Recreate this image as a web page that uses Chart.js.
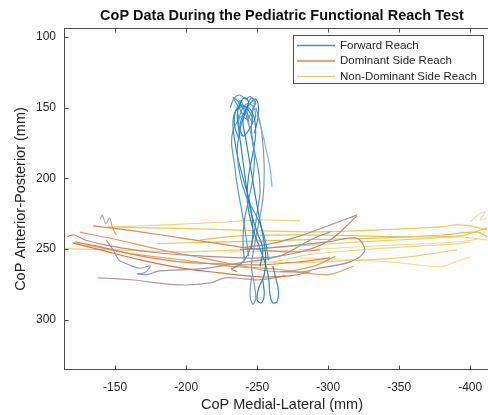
<!DOCTYPE html>
<html><head><meta charset="utf-8">
<script src="https://cdn.jsdelivr.net/npm/chart.js@4.4.0/dist/chart.umd.min.js"></script>
<style>html,body{margin:0;padding:0;background:#fff;overflow:hidden;width:488px;height:415px}canvas{display:block}</style>
</head><body>
<canvas id="c" width="500" height="415" style="width:500px;height:415px"></canvas>
<script>
const titleText = 'CoP Data During the Pediatric Functional Reach Test';
const xLabel = 'CoP Medial-Lateral (mm)';
const yLabel = 'CoP Anterior-Posterior (mm)';
const seriesNames = ['Forward Reach', 'Dominant Side Reach', 'Non-Dominant Side Reach'];
const legendColors = ['#3f93c8', '#e2864a', '#f0cf68'];
const xTicks = [-150, -200, -250, -300, -350, -400];
const yTicks = [100, 150, 200, 250, 300];

// Forward reach trials: [medial-lateral, anterior-posterior] in mm
const forward1 = [[-252,262],[-254,250],[-250,238],[-246,225],[-243,210],[-241,195],[-239,180],[-237,165],[-236,155],[-238,147],[-241,143],[-244,146],[-242,152],[-240,160],[-242,172],[-245,190],[-248,208],[-251,225],[-254,240],[-256,255],[-255,268],[-251,278],[-250,286],[-253,288],[-255,282],[-254,272]];
const forward2 = [[-241,258],[-240,245],[-241,230],[-244,215],[-247,200],[-248,185],[-246,170],[-243,158],[-240,150],[-236,145],[-233,143],[-236,148],[-240,156],[-238,165],[-236,180],[-238,198],[-242,212],[-247,222],[-252,232],[-256,245],[-258,258]];
const forward3 = [[-250,155],[-253,165],[-256,178],[-259,192],[-260.5,206]];
const forward4 = [[-246,250],[-247,235],[-245,218],[-241,203],[-237,188],[-234,172],[-233,160],[-235,152],[-240,149],[-245,151],[-248,157],[-249,168],[-247,182],[-244,198],[-243,215],[-246,232],[-251,247],[-255,258],[-258,270],[-259,282],[-261,288],[-264,287],[-265,279],[-263,270],[-261,262]];
const forward5 = [[-236,266],[-232,264],[-236,262],[-241,258],[-245,250],[-248,238],[-250,224],[-252,210],[-251,195],[-248,180],[-246,165],[-247,152],[-249,146],[-246,143],[-243,150],[-244,160]];
const forward6 = [[-239,170],[-237,160],[-239,152],[-243,147],[-247,149],[-249,155],[-247,160],[-244,156],[-241,150],[-238,145],[-236,150],[-237,158]];
const forward7 = [[-231,150],[-234,143],[-238,141],[-242,144],[-245,142],[-248,146],[-246,153],[-243,158],[-239,156],[-236,160],[-233,166],[-232,175],[-234,190],[-236,205],[-239,222],[-242,240],[-244,255]];
const forward8 = [[-248,168],[-250,160],[-251,150],[-249,144],[-245,147],[-241,153],[-238,162],[-240,170],[-244,166],[-247,159],[-244,152],[-239,148],[-235,152],[-234,162],[-237,172]];
const forward9 = [[-249,150],[-252,160],[-254,175],[-255,195],[-254,215],[-251,232],[-248,248],[-246,262],[-248,275],[-249,285],[-247,289],[-245,283],[-246,270]];

// Dominant side reach trials
const dominant1 = [[-121.8,244.9],[-139.4,248.4],[-167.6,254.8],[-195.8,259],[-223.9,260.4],[-252.1,261.1],[-280.3,259],[-301.4,256.2]];
const dominant2 = [[-120.4,245.6],[-139.4,250.5],[-167.6,257.6],[-195.8,263.3],[-223.9,266.8],[-252.1,269.6],[-273.2,268.9],[-287.3,266]];
const dominant3 = [[-116,241],[-121,240],[-128.9,243.5],[-146.5,247.7],[-174.6,252],[-209.9,254.8],[-252.1,256.2],[-280.3,252],[-301.4,243.5],[-320.4,226.5]];
const dominant4 = [[-143.6,243.5],[-148.6,250.5],[-152.8,258],[-156,259.5],[-162,262],[-168,263.5],[-174.6,262],[-171,266.5],[-165.5,267.5],[-172,268],[-181.7,265.4],[-209.9,264],[-238,259.7],[-266.2,254.8],[-287.3,243.5],[-301.4,237.8]];
const dominant5 = [[-138,270.3],[-160.6,271.7],[-195.8,275.3],[-216.9,273.9],[-227.5,270.3],[-241.5,271],[-252.1,271.7],[-269.7,268.9]];
const dominant6 = [[-134.5,233.6],[-146.5,235],[-167.6,237.8],[-195.8,242],[-223.9,246.3],[-252.1,250.5],[-273.2,252],[-294.4,250.5]];
const dominant7 = [[-238,250.5],[-266.2,248.4],[-299.3,244.9],[-319,242],[-324,245.6],[-325.4,252],[-315.5,259],[-294.4,263.3],[-282.4,266],[-266.2,266]];
const dominant8 = [[-238,249.1],[-259.2,246.3],[-280.3,240.6],[-301.4,232.9],[-320.4,225.8]];
const dominant9 = [[-139.4,229],[-141,226],[-143.5,232],[-146,228],[-148.6,236],[-151,240]];
const dominant10 = [[-125,238],[-150,243],[-180,250],[-210,256],[-240,262],[-265,266],[-290,262],[-305,255]];
const dominant11 = [[-130,247],[-160,253],[-200,258],[-230,262],[-262,264],[-300,268],[-318,262]];

// Non-dominant side reach trials
const nondom1 = [[-144.4,234.3],[-174.6,235],[-209.9,235.7],[-252.1,237.1],[-294.4,237.8],[-336.6,236.4],[-378.9,234.3],[-390.8,232.9],[-400,233.6],[-412,236.4]];
const nondom2 = [[-114,249.5],[-118.3,249.8],[-153.5,250.5],[-195.8,252],[-238,250.5],[-280.3,247.7],[-322.5,244.9],[-364.8,242.8],[-393,241.4],[-412,243.5]];
const nondom3 = [[-209.9,243.5],[-238,240.6],[-280.3,239.9],[-322.5,240.6],[-364.8,241.4],[-393,240.6],[-403.5,237.8],[-412,235]];
const nondom4 = [[-245.1,259],[-261.3,259],[-285.2,254.1],[-322.5,250.5],[-364.8,247.7],[-390.8,246.3],[-400,244.9]];
const nondom5 = [[-261.3,259.7],[-294.4,259],[-350,256.2],[-371.8,253.4],[-390.8,250.5]];
const nondom6 = [[-280.3,256.2],[-320.4,257.6],[-350.7,259.7],[-378.9,262.5],[-389.4,259],[-400,255.5]];
const nondom7 = [[-400,230.7],[-405.7,225.8],[-410.6,223.6],[-407,229.3],[-412,228]];
const nondom8 = [[-148.6,234.3],[-181.7,233],[-223.9,231],[-252.1,229.3],[-280,230]];
const nondom9 = [[-180,246],[-220,245],[-260,244],[-300,243],[-340,242],[-380,240],[-405,238],[-412,241]];
const nondom10 = [[-230,252],[-270,251],[-310,249],[-350,247],[-390,245],[-405,243]];

const groups = [
  { name: 0, trials: [forward1, forward2, forward3, forward4, forward5, forward6, forward7, forward8, forward9],
    colors: ['#1f7fc4', '#3f95d0', '#7fb5dc', '#2a86c8', '#6d8fb0', '#5aa0d5', '#4a9ad6', '#3585c0', '#7a98b8'] },
  { name: 1, trials: [dominant1, dominant2, dominant3, dominant4, dominant5, dominant6, dominant7, dominant8, dominant9, dominant10, dominant11],
    colors: ['#e8843c', '#e07040', '#b98a86', '#8f98b8', '#b49a9a', '#d98a50', '#a58a9a', '#a89090', '#b0a8b0', '#e69a5a', '#eba070'] },
  { name: 2, trials: [nondom1, nondom2, nondom3, nondom4, nondom5, nondom6, nondom7, nondom8, nondom9, nondom10],
    colors: ['#efc850', '#f0d068', '#ecc040', '#f2d878', '#eed070', '#f3e0a0', '#e8e0b0', '#f0d470', '#eebc48', '#f1d98a'] }
];

const datasets = [];
groups.forEach(g => {
  g.trials.forEach((t, i) => {
    datasets.push({
      label: seriesNames[g.name],
      data: t.map(p => ({ x: p[0], y: p[1] })),
      borderColor: g.colors[i],
      borderWidth: 1.15,
      pointRadius: 0,
      tension: 0.35,
      fill: false,
      showLine: true
    });
  });
});

const FONT = 'Liberation Sans, Arial, Helvetica, sans-serif';
const AXIS = '#4d4d4d';
const TXT = '#262626';

const framePlugin = {
  id: 'frame',
  afterDatasetsDraw(chart) {
    const { ctx, chartArea: a, scales: { x, y } } = chart;
    ctx.save();
    ctx.strokeStyle = AXIS;
    ctx.lineWidth = 1;
    const L = Math.round(a.left) + 0.5, T = Math.round(a.top) + 0.5;
    const R = Math.round(a.right) - 0.5, B = Math.round(a.bottom) - 0.5;
    ctx.strokeRect(L, T, R - L, B - T);
    ctx.beginPath();
    x.ticks.forEach(t => {
      const p = Math.round(x.getPixelForValue(t.value)) + 0.5;
      ctx.moveTo(p, B); ctx.lineTo(p, B - 4);
      ctx.moveTo(p, T); ctx.lineTo(p, T + 4);
    });
    y.ticks.forEach(t => {
      const p = Math.round(y.getPixelForValue(t.value)) + 0.5;
      ctx.moveTo(L, p); ctx.lineTo(L + 4, p);
      ctx.moveTo(R, p); ctx.lineTo(R - 4, p);
    });
    ctx.stroke();
    // legend box
    const bx = Math.round(a.right) - 207, by = Math.round(a.top) + 7, bw = 190, bh = 48;
    ctx.fillStyle = '#fff';
    ctx.fillRect(bx, by, bw, bh);
    ctx.strokeStyle = AXIS;
    ctx.strokeRect(bx + 0.5, by + 0.5, bw, bh);
    ctx.font = '11.5px ' + FONT;
    ctx.textBaseline = 'middle';
    ctx.textAlign = 'left';
    seriesNames.forEach((n, i) => {
      const yy = by + 10.5 + i * 15.5;
      ctx.strokeStyle = legendColors[i];
      ctx.lineWidth = 1.4;
      ctx.beginPath();
      ctx.moveTo(bx + 4, yy); ctx.lineTo(bx + 42, yy);
      ctx.stroke();
      ctx.fillStyle = TXT;
      ctx.fillText(n, bx + 47, yy);
    });
    ctx.restore();
  }
};

new Chart(document.getElementById('c'), {
  type: 'line',
  data: { datasets },
  options: {
    responsive: false,
    animation: false,
    layout: { padding: 0 },
    plugins: {
      legend: { display: false },
      tooltip: { enabled: false },
      title: {
        display: true, text: titleText, fullSize: false, color: '#111',
        font: { family: FONT, size: 14.5, weight: 'bold', lineHeight: 1.0 },
        padding: { top: 9, bottom: 4.5 }
      }
    },
    scales: {
      x: {
        type: 'linear', reverse: true, min: -421, max: -114,
        afterBuildTicks: s => { s.ticks = xTicks.map(v => ({ value: v })); },
        afterFit: s => { s.height = 45; },
        ticks: { color: TXT, font: { family: FONT, size: 12 }, padding: 10, maxRotation: 0, includeBounds: false },
        grid: { display: false, drawTicks: false },
        border: { display: false },
        title: { display: true, text: xLabel, color: TXT, font: { family: FONT, size: 14.5 }, padding: { top: 0, bottom: 1.3 } }
      },
      y: {
        type: 'linear', reverse: true, min: 93.6, max: 335.5,
        afterBuildTicks: s => { s.ticks = yTicks.map(v => ({ value: v })); },
        afterFit: s => { s.width = 64; },
        ticks: { color: TXT, font: { family: FONT, size: 12 }, padding: 8, includeBounds: false },
        grid: { display: false, drawTicks: false },
        border: { display: false },
        title: { display: true, text: yLabel, color: TXT, font: { family: FONT, size: 14.5 }, padding: { top: 12.3, bottom: 0 } }
      }
    }
  },
  plugins: [framePlugin]
});
</script>
</body></html>
